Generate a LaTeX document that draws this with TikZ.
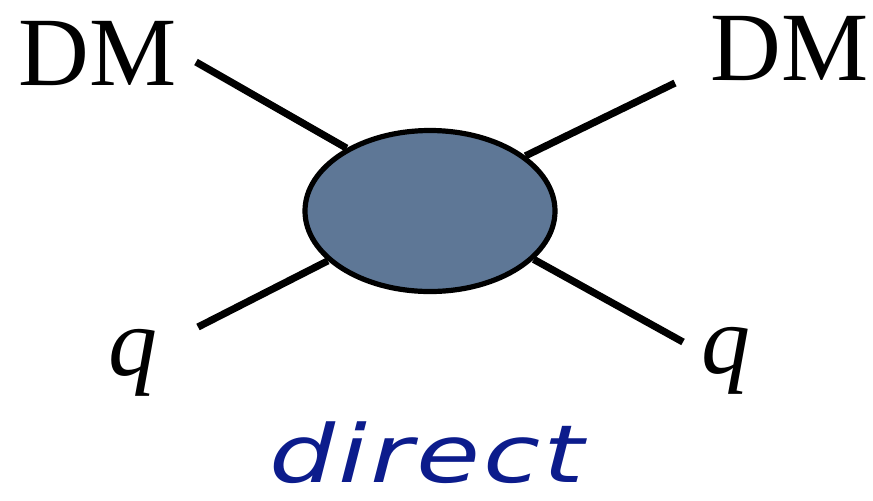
\documentclass[tikz,border=0pt]{standalone}
\usepackage{fontspec}
\setmainfont{Liberation Serif}
\newfontfamily\handfont[LetterSpace=3]{DejaVu Sans}
\usetikzlibrary{shapes.geometric,backgrounds}
\definecolor{blobfill}{RGB}{94,119,150}
\definecolor{handblue}{RGB}{12,28,140}

\begin{document}
\begin{tikzpicture}[x=0.5pt, y=-0.5pt,
    vertex/.style={ellipse, draw=black, fill=blobfill, line width=2.6pt,
              minimum width=125pt, minimum height=80.5pt, inner sep=0pt},
    leg/.style={draw=black, line width=3.6pt},
    lab/.style={anchor=base west, inner sep=0pt,
              font=\fontsize{49}{50}\selectfont},
    capt/.style={anchor=base, inner sep=0pt, text depth=0pt, text=handblue,
              font=\handfont\itshape\fontsize{40}{42}\selectfont}]
  \useasboundingbox (0,0) rectangle (873,500);

  % ---------- the blob and its four legs ----------------------------------
  \node[vertex] (blob) at (430,211) {};
  \coordinate (dmin)  at (196,62);
  \coordinate (dmout) at (675,83);
  \coordinate (qin)   at (198,327);
  \coordinate (qout)  at (683,342);
  \begin{pgfonlayer}{background}
    \draw[leg] (dmin) -- (blob.143.5);
    \draw[leg] (blob.30.9) -- (dmout);
    \draw[leg] (qin) -- (blob.206.8);
    \draw[leg] (blob.335.9) -- (qout);
  \end{pgfonlayer}

  % ---------- labels -------------------------------------------------------
  \node[lab] (dml) at (18.5,85) {DM};
  \node[lab] (dmr) at (710.5,80) {DM};
  \node[lab] (ql)  at (108,375) {\itshape q};
  \node[lab] (qr)  at (701,373) {\itshape q};

  \node[capt] (kind) at (427,482) {\scalebox{1.3}[1]{direct}};
\end{tikzpicture}
\end{document}
